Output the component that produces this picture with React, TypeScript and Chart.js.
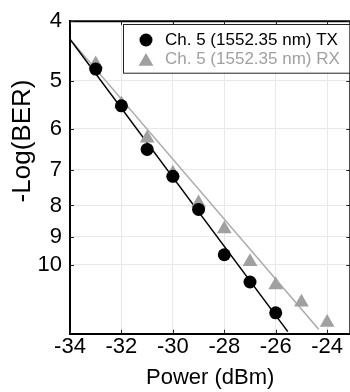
import React, { useEffect, useRef } from 'react';
import { Chart, registerables } from 'chart.js';
Chart.register(...registerables);

const powerTX = [-33, -32, -31, -30, -29, -28, -27, -26];
const berTX = [4.79, 5.5, 6.48, 7.17, 8.12, 9.63, 10.67, 11.98];
const powerRX = [-33, -32, -31, -30, -29, -28, -27, -26, -25, -24];
const berRX = [4.7, 5.46, 6.21, 7.09, 7.93, 8.74, 9.89, 10.79, 11.51, 12.43];
const fitTXPower = [-34, -25.53];
const fitTXBer = [4.28, 12.86];
const fitRXPower = [-34, -24.33];
const fitRXBer = [4.28, 12.74];
const xTickValues = [-34, -32, -30, -28, -26, -24];
const yTickValues = [4, 5, 6, 7, 8, 9, 10];
const labelTX = 'Ch. 5 (1552.35 nm) TX';
const labelRX = 'Ch. 5 (1552.35 nm) RX';
const xTitle = 'Power (dBm)';
const yTitle = '-Log(BER)';

const FONT = "'Liberation Sans', Arial, sans-serif";
const GRAY_MARK = '#a0a0a0';
const GRAY_LINE = '#aaaaaa';

const pts = (xs: number[], ys: number[]) => xs.map((x, i) => ({ x, y: ys[i] }));

const framePlugin = {
  id: 'frame',
  afterDraw(chart: any) {
    const { ctx, chartArea, scales } = chart;
    const { left, top, right, bottom } = chartArea;
    ctx.save();
    ctx.strokeStyle = '#000';
    ctx.lineWidth = 2;
    ctx.beginPath();
    ctx.moveTo(left - 1, top);
    ctx.lineTo(right + 1, top);
    ctx.moveTo(right, top);
    ctx.lineTo(right, bottom);
    ctx.stroke();
    ctx.lineWidth = 1;
    ctx.strokeStyle = '#222';
    ctx.beginPath();
    xTickValues.forEach((v) => {
      const px = Math.round(scales.x.getPixelForValue(v)) + 0.5;
      ctx.moveTo(px, bottom);
      ctx.lineTo(px, bottom - 4);
      ctx.moveTo(px, top);
      ctx.lineTo(px, top + 4);
    });
    yTickValues.forEach((v) => {
      const py = Math.round(scales.y.getPixelForValue(v)) + 0.5;
      ctx.moveTo(left, py);
      ctx.lineTo(left + 4, py);
      ctx.moveTo(right, py);
      ctx.lineTo(right - 4, py);
    });
    ctx.stroke();

    // legend
    const bx = 123, by = 24, bw = 226.5, bh = 48.7;
    ctx.fillStyle = '#fff';
    ctx.fillRect(bx, by, bw, bh);
    ctx.strokeStyle = '#222';
    ctx.lineWidth = 1;
    ctx.strokeRect(bx + 0.5, by + 0.5, bw, bh);
    ctx.fillStyle = '#000';
    ctx.beginPath();
    ctx.arc(146, 40, 6.5, 0, Math.PI * 2);
    ctx.fill();
    ctx.fillStyle = GRAY_MARK;
    const r = 8.5, cx = 146, cy = 61.6;
    ctx.beginPath();
    ctx.moveTo(cx, cy - r);
    ctx.lineTo(cx + r * Math.sin((2 * Math.PI) / 3), cy + r * 0.5);
    ctx.lineTo(cx - r * Math.sin((2 * Math.PI) / 3), cy + r * 0.5);
    ctx.closePath();
    ctx.fill();
    ctx.font = `17px ${FONT}`;
    ctx.textBaseline = 'middle';
    ctx.textAlign = 'left';
    ctx.fillStyle = '#000';
    ctx.fillText(chart.data.datasets[0].label, 165, 40);
    ctx.fillStyle = GRAY_MARK;
    ctx.fillText(chart.data.datasets[1].label, 165, 59.5);

    // y title
    ctx.save();
    ctx.translate(23, 141);
    ctx.rotate(-Math.PI / 2);
    ctx.font = `26px ${FONT}`;
    ctx.fillStyle = '#000';
    ctx.textAlign = 'center';
    ctx.textBaseline = 'middle';
    ctx.fillText(yTitle, 0, 0);
    ctx.restore();
    ctx.restore();
  },
};

export default function App() {
  const ref = useRef<HTMLCanvasElement>(null);
  useEffect(() => {
    if (!ref.current) return;
    const chart = new Chart(ref.current, {
      type: 'scatter',
      data: {
        datasets: [
          {
            label: labelTX,
            data: pts(powerTX, berTX),
            pointStyle: 'circle',
            pointRadius: 6.5,
            backgroundColor: '#000',
            borderColor: '#000',
            borderWidth: 0,
            showLine: false,
            order: 0,
          },
          {
            label: labelRX,
            data: pts(powerRX, berRX),
            pointStyle: 'triangle',
            pointRadius: 8.5,
            backgroundColor: GRAY_MARK,
            borderColor: GRAY_MARK,
            borderWidth: 0,
            showLine: false,
            order: 1,
          },
          {
            label: 'fit TX',
            data: pts(fitTXPower, fitTXBer),
            showLine: true,
            pointRadius: 0,
            borderColor: '#000',
            borderWidth: 1.5,
            order: 2,
          } as any,
          {
            label: 'fit RX',
            data: pts(fitRXPower, fitRXBer),
            showLine: true,
            pointRadius: 0,
            borderColor: GRAY_LINE,
            borderWidth: 1.5,
            order: 3,
          } as any,
        ],
      },
      options: {
        responsive: false,
        animation: false,
        devicePixelRatio: 1,
        layout: { padding: { top: 18.5, right: 9.7, left: 0, bottom: 0 } },
        plugins: { legend: { display: false }, tooltip: { enabled: false } },
        scales: {
          x: {
            type: 'linear',
            min: -34,
            max: -23.1,
            afterBuildTicks: (s: any) => {
              s.ticks = xTickValues.map((v) => ({ value: v }));
            },
            afterFit: (s: any) => {
              s.height = 58.3;
            },
            grid: { color: '#e8e8e8', drawTicks: false },
            border: { color: '#000', width: 2 },
            ticks: {
              color: '#000',
              padding: 0,
              font: { family: FONT, size: 22 },
              maxRotation: 0,
              callback: (v: any) => String(v),
            },
            title: {
              display: true,
              text: xTitle,
              color: '#000',
              font: { family: FONT, size: 22 },
              padding: { top: 0, bottom: 1 },
            },
          },
          y: {
            type: 'logarithmic',
            reverse: true,
            min: 4,
            max: 12.96,
            afterBuildTicks: (s: any) => {
              s.ticks = yTickValues.map((v) => ({ value: v }));
            },
            afterFit: (s: any) => {
              s.width = 70;
            },
            grid: { color: '#e8e8e8', drawTicks: false },
            border: { color: '#000', width: 2 },
            ticks: {
              color: '#000',
              padding: 8,
              font: { family: FONT, size: 22 },
              callback: (v: any) => String(v),
            },
          },
        },
      },
      plugins: [framePlugin],
    } as any);
    return () => chart.destroy();
  }, []);
  return (
    <div style={{ position: 'fixed', left: 0, top: 0, width: 350, height: 392, overflow: 'hidden', background: '#fff' }}>
      <canvas ref={ref} width={360} height={392} style={{ display: 'block', width: 360, height: 392 }} />
    </div>
  );
}
